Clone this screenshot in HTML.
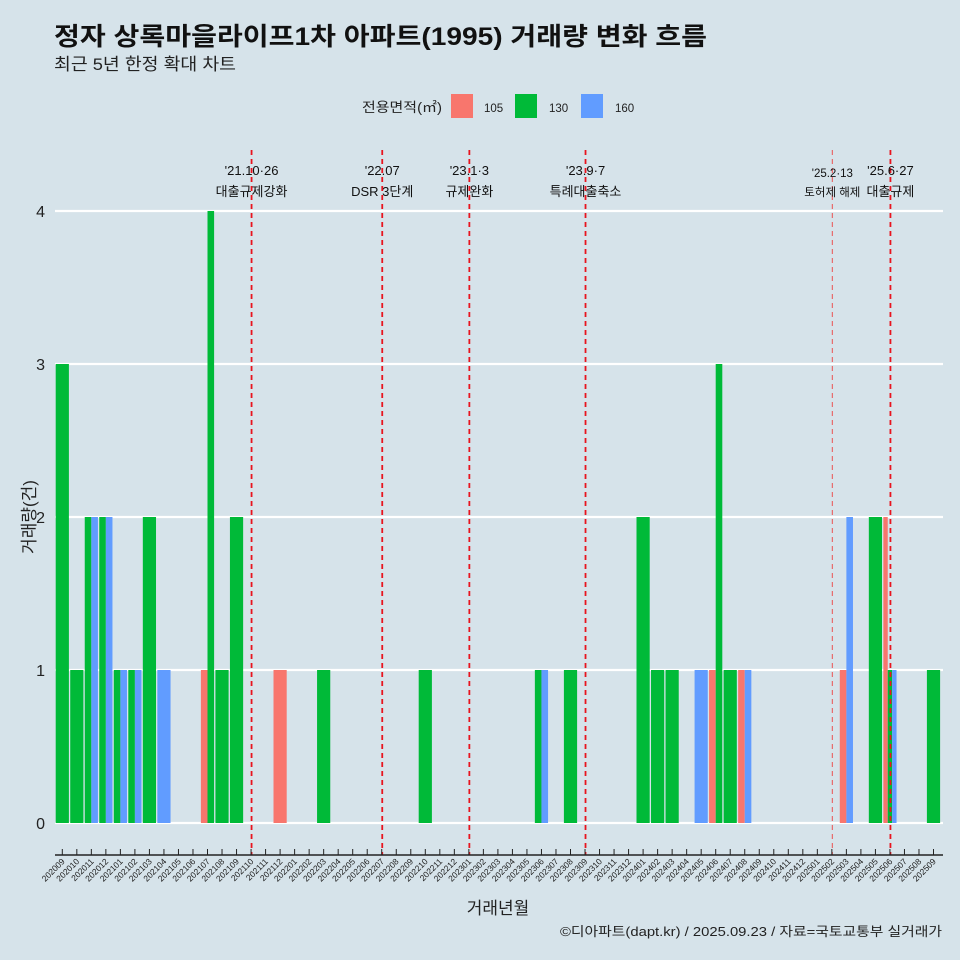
<!DOCTYPE html>
<html><head><meta charset="utf-8">
<style>
body{margin:0;background:#d6e3ea;}
svg{display:block;font-family:"Liberation Sans","Noto Sans CJK KR",sans-serif;}
</style></head>
<body>
<svg id="chart" width="960" height="960" viewBox="0 0 960 960">
<rect width="960" height="960" fill="#d6e3ea"/>
<text x="54" y="45" font-size="25" font-weight="bold" fill="#111" textLength="653" lengthAdjust="spacingAndGlyphs">정자 상록마을라이프1차 아파트(1995) 거래량 변화 흐름</text>
<text x="54" y="70" font-size="17" fill="#222" textLength="182" lengthAdjust="spacingAndGlyphs">최근 5년 한정 확대 차트</text>
<g>
<text x="362" y="112" font-size="13.5" fill="#222" textLength="80" lengthAdjust="spacingAndGlyphs">전용면적(㎡)</text>
<rect x="451" y="94" width="22" height="24" fill="#F8766D"/>
<text x="484" y="112" font-size="11.5" fill="#222">105</text>
<rect x="515" y="94" width="22" height="24" fill="#00BA38"/>
<text x="549" y="112" font-size="11.5" fill="#222">130</text>
<rect x="581" y="94" width="22" height="24" fill="#619CFF"/>
<text x="615" y="112" font-size="11.5" fill="#222">160</text>
</g>
<g id="grid"></g><g id="bars"></g><g id="events"></g><g id="xaxis"></g>
<text x="498" y="914" font-size="17" text-anchor="middle" fill="#222">거래년월</text>
<text transform="translate(35,517) rotate(-90)" font-size="17" text-anchor="middle" fill="#222">거래량(건)</text>
<text x="942" y="936" font-size="13" text-anchor="end" fill="#222" textLength="382" lengthAdjust="spacingAndGlyphs">©디아파트(dapt.kr) / 2025.09.23 / 자료=국토교통부 실거래가</text>
</svg>
<script>
const months = [];
for (let y = 2020, m = 9; months.length < 61; ) { months.push(y + String(m).padStart(2,'0')); m++; if (m > 12) { m = 1; y++; } }
const areas = ['105','130','160'];
const colors = ['#F8766D','#00BA38','#619CFF'];
const yTicks = [0,1,2,3,4];
const barMonths = ['202009','202010','202011','202012','202101','202102','202103','202104','202107','202108','202109','202112','202203','202210','202306','202308','202401','202402','202403','202405','202406','202407','202408','202503','202505','202506','202509'];
const s105 = [0,0,0,0,0,0,0,0,1,0,0,1,0,0,0,0,0,0,0,0,1,0,1,1,0,2,0];
const s130 = [3,1,2,2,1,1,2,0,4,1,2,0,1,1,1,1,2,1,1,0,3,1,0,0,2,1,1];
const s160 = [0,0,2,2,1,1,0,1,0,0,0,0,0,0,1,0,0,0,0,1,0,0,1,2,0,1,0];
const eventMonths = ['202110','202207','202301','202309','202502','202506'];
const eventDates = ["'21.10·26","'22.07","'23.1·3","'23.9·7","'25.2·13","'25.6·27"];
const eventLabels = ['대출규제강화','DSR 3단계','규제완화','특례대출축소','토허제 해제','대출규제'];

const NS='http://www.w3.org/2000/svg';
const x0=62.3, step=14.52, y0=823, unit=153, bw=13.2;
const xPos = m => x0 + step*months.indexOf(m);
const yPos = v => y0 - v*unit;
function mk(tag, attrs, parent){const e=document.createElementNS(NS,tag);for(const k in attrs)e.setAttribute(k,attrs[k]);parent.appendChild(e);return e;}
const grid=document.getElementById('grid'), bars=document.getElementById('bars'), ev=document.getElementById('events'), xa=document.getElementById('xaxis');
yTicks.forEach(t=>{
  const l=mk('line',{x1:55,x2:943,y1:yPos(t),y2:yPos(t),stroke:'#fff','stroke-width':2.2},grid);
  
  
  const tx=mk('text',{x:45,y:yPos(t)+6,'font-size':16,'text-anchor':'end',fill:'#222'},grid);
  tx.textContent=t;
  
  
});
const series=[s105,s130,s160];
barMonths.forEach((m,i)=>{
  const present=[0,1,2].filter(k=>series[k][i]>0);
  const w=bw/present.length;
  present.forEach((k,j)=>{
    const v=series[k][i];
    const r=mk('rect',{x:xPos(m)-bw/2+j*w,y:yPos(v),width:w,height:yPos(0)-yPos(v),fill:colors[k]},bars);
    
    
  });
});
eventMonths.forEach((m,i)=>{
  const x=xPos(m)+0.5;
  const light = m==='202502';
  const l=mk('line',{x1:x,x2:x,y1:150,y2:855,stroke:light?'#e86a6a':'#e8141e','stroke-width':light?1.2:1.8,'stroke-dasharray':'5,4'},ev);
  
  
  const fs = light?11.5:13;
  const t1=mk('text',{x:x,y:light?177:175,'font-size':fs,'text-anchor':'middle',fill:'#111'},ev);
  t1.textContent=eventDates[i];
  
  
  const t2=mk('text',{x:x,y:196,'font-size':fs,'text-anchor':'middle',fill:'#111'},ev);
  t2.textContent=eventLabels[i];
  
  
});
const ax=mk('line',{x1:55,x2:943,y1:855,y2:855,stroke:'#222','stroke-width':1.5},xa);


months.forEach(m=>{
  const x=xPos(m);
  const tk=mk('line',{x1:x,x2:x,y1:849,y2:855,stroke:'#222','stroke-width':1},xa);
  
  
  const t=mk('text',{transform:`translate(${x+3},${862}) rotate(-45)`,'font-size':8.5,'text-anchor':'end',fill:'#222'},xa);
  t.textContent=m;
  
  
});
</script>
</body></html>
